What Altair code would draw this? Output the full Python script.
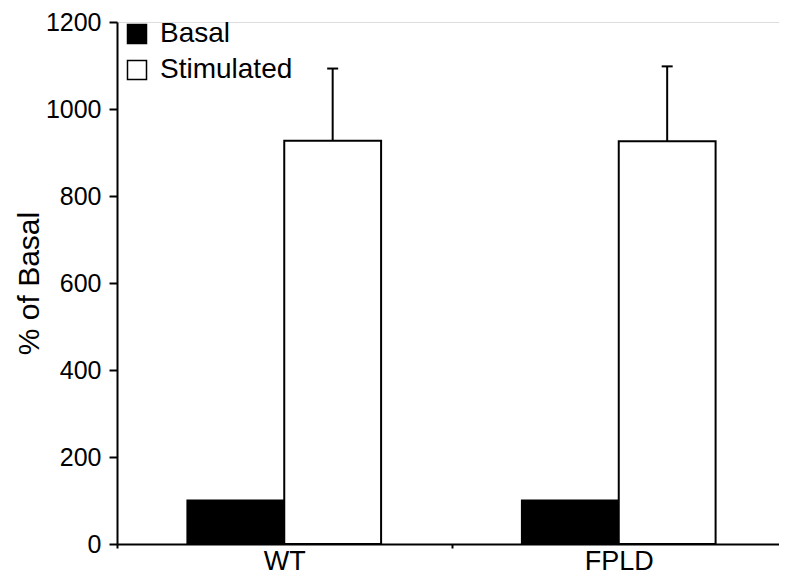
import altair as alt
import pandas as pd

categories = ["WT", "FPLD"]
conditions = ["Basal", "Stimulated"]
basal = [100, 100]
stimulated = [927, 926]
stim_error = [166, 172]
y_ticks = [0, 200, 400, 600, 800, 1000, 1200]

rows = []
for i, c in enumerate(categories):
    rows.append({"group": c, "condition": "Basal", "value": basal[i], "upper": None})
    rows.append({"group": c, "condition": "Stimulated", "value": stimulated[i],
                 "upper": stimulated[i] + stim_error[i]})
df = pd.DataFrame(rows)

FONT = "Liberation Sans"

x_scale = alt.Scale(paddingInner=0, paddingOuter=0, range=[0, 669])
x_enc = alt.X("group:N", sort=categories, scale=x_scale,
              axis=alt.Axis(title=None, labelAngle=0, tickBand="extent",
                            labelFontSize=27, labelFont=FONT, labelColor="black",
                            labelPadding=0, tickSize=4, tickWidth=2, tickColor="black",
                            domainColor="black", domainWidth=2, grid=False))
xoff = alt.XOffset("condition:N", sort=conditions,
                   scale=alt.Scale(paddingInner=0, paddingOuter=0.727))
y_scale = alt.Scale(domain=[0, 1200], nice=False)
y_axis = alt.Axis(title="% of Basal", values=y_ticks, format="d",
                  titleFontSize=30, titleFont=FONT,
                  titleFontWeight="normal", titleColor="black", titlePadding=1,
                  labelFontSize=25, labelFont=FONT, labelColor="black", labelPadding=8,
                  tickSize=8, tickWidth=2, tickColor="black",
                  domainColor="black", domainWidth=2, grid=False)

bars = alt.Chart(df).mark_bar(stroke="black", strokeWidth=2, opacity=1).encode(
    x=x_enc,
    xOffset=xoff,
    y=alt.Y("value:Q", scale=y_scale, axis=y_axis, stack=None),
    color=alt.Color("condition:N", sort=conditions,
                    scale=alt.Scale(domain=conditions, range=["black", "white"]),
                    legend=alt.Legend(title=None, orient="none", legendX=6, legendY=-2,
                                      symbolType="square", symbolSize=361,
                                      symbolStrokeColor="black", symbolStrokeWidth=1.5,
                                      symbolOpacity=1,
                                      labelFontSize=28, labelFont=FONT, labelColor="black",
                                      labelOffset=9, rowPadding=8)),
)

err_df = df.dropna(subset=["upper"])
rule = alt.Chart(err_df).mark_rule(color="black", strokeWidth=2).encode(
    x=alt.X("group:N", sort=categories), xOffset=alt.XOffset("condition:N", sort=conditions),
    y=alt.Y("value:Q", scale=y_scale), y2="upper:Q")
cap = alt.Chart(err_df).mark_tick(color="black", size=11, thickness=2, opacity=1).encode(
    x=alt.X("group:N", sort=categories), xOffset=alt.XOffset("condition:N", sort=conditions),
    y=alt.Y("upper:Q", scale=y_scale))

chart = alt.layer(bars, rule, cap).properties(
    width=662, height=522,
    autosize=alt.AutoSizeParams(type="none"),
    padding={"left": 109, "top": 14, "right": 0, "bottom": 35},
).configure_view(stroke=None).configure(background="white")

chart.save("out.html", embed_options={"renderer": "svg", "actions": False})
